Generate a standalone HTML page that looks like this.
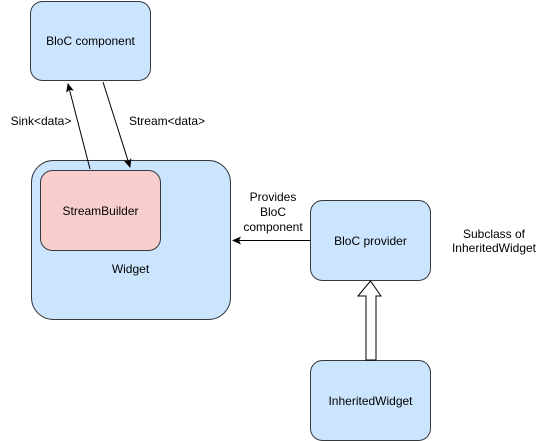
<!DOCTYPE html>
<html><head><style>
html,body{margin:0;padding:0;background:#fff;}
svg{display:block;font-family:"Liberation Sans",Arial,sans-serif;font-size:12px;}
</style></head><body>
<svg width="541" height="441" viewBox="0 0 541 441">
<defs>
<marker id="a" markerWidth="10" markerHeight="10" refX="8" refY="5" orient="auto" markerUnits="userSpaceOnUse">
<path d="M0,1 L9,5 L0,9 L2,5 Z" fill="#000"/>
</marker>
</defs>
<rect x="30.5" y="1.5" width="120" height="79" rx="12" fill="#cce5ff" stroke="#36393d"/>
<text x="90.5" y="45" text-anchor="middle">BloC component</text>
<rect x="31.5" y="160.5" width="199" height="159" rx="22" fill="#cce5ff" stroke="#36393d"/>
<rect x="40.5" y="170.5" width="120" height="80" rx="12" fill="#f8cecc" stroke="#36393d"/>
<text x="100.5" y="215" text-anchor="middle">StreamBuilder</text>
<text x="130.5" y="273" text-anchor="middle">Widget</text>
<line x1="90" y1="169" x2="68" y2="84" stroke="#000" marker-end="url(#a)"/>
<line x1="103" y1="82" x2="130" y2="167" stroke="#000" marker-end="url(#a)"/>
<text x="41" y="125" text-anchor="middle">Sink&lt;data&gt;</text>
<text x="167" y="125" text-anchor="middle">Stream&lt;data&gt;</text>
<text x="273" y="201" text-anchor="middle">Provides</text>
<text x="273" y="216" text-anchor="middle">BloC</text>
<text x="273" y="231" text-anchor="middle">component</text>
<line x1="310" y1="240.5" x2="233" y2="240.5" stroke="#000" marker-end="url(#a)"/>
<rect x="310.5" y="200.5" width="120" height="80" rx="12" fill="#cce5ff" stroke="#36393d"/>
<text x="370.5" y="245" text-anchor="middle">BloC provider</text>
<rect x="310.5" y="360.5" width="120" height="80" rx="12" fill="#cce5ff" stroke="#36393d"/>
<text x="370.5" y="405" text-anchor="middle">InheritedWidget</text>
<path d="M366,360 L366,296 L358,296 L370.5,281 L381,296 L376,296 L376,360 Z" fill="#fff" stroke="#000"/>
<text x="494" y="238" text-anchor="middle">Subclass of</text>
<text x="494" y="252" text-anchor="middle">InheritedWidget</text>
</svg>
</body></html>
